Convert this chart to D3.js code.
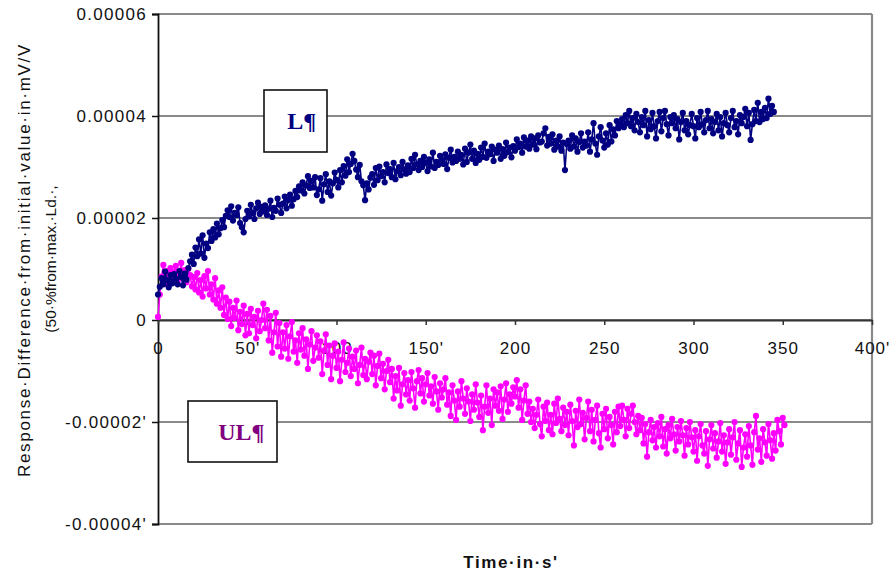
<!DOCTYPE html>
<html><head><meta charset="utf-8">
<script src="https://cdn.jsdelivr.net/npm/d3@7"></script>
<style>body{margin:0;background:#fff}svg{display:block}</style>
</head><body>
<svg id="chart" width="895" height="575"></svg>
<script>
// values in micro-units (x 1e-6 mV/V), one sample per second
const UNIT = 1e-6;
const lStart = 0;
const lValues = [
5.0,6.5,8.2,7.0,9.5,7.8,6.4,8.8,7.2,9.0,
8.1,7.0,9.6,8.4,6.8,9.1,7.9,10.2,11.5,12.8,
11.0,14.2,12.5,15.8,13.0,16.6,12.2,15.0,14.1,17.2,
15.5,17.8,16.2,18.9,16.8,18.0,19.6,18.2,20.4,21.5,
20.2,22.3,19.5,21.0,20.6,22.1,19.0,18.2,17.2,19.8,
21.4,20.3,22.6,21.0,19.8,21.9,23.0,20.8,22.2,21.3,
22.5,20.6,21.8,23.4,20.2,22.0,21.4,23.8,22.6,21.0,
22.8,24.2,21.9,23.5,24.6,22.4,23.7,25.3,24.1,26.2,
25.4,27.0,24.8,26.4,28.2,25.9,27.3,26.0,28.0,24.5,
25.6,27.8,23.4,26.6,28.6,25.1,27.2,24.4,26.8,28.9,
27.5,26.0,29.4,27.0,30.2,28.3,31.5,29.0,30.6,32.6,
31.2,29.5,28.0,30.4,27.2,26.4,23.5,26.8,25.6,27.9,
28.6,26.5,29.8,27.4,30.1,28.2,29.0,27.0,30.5,28.8,
29.6,28.0,30.8,27.6,29.2,30.0,28.4,31.0,29.5,28.7,
30.3,29.0,31.6,29.8,32.4,30.5,29.4,31.2,30.0,32.0,
30.8,29.2,31.5,30.1,32.8,29.8,31.0,30.4,32.2,31.4,
30.6,32.5,29.6,31.8,33.4,30.9,32.0,31.2,33.0,31.6,
32.4,30.5,33.6,31.0,32.8,34.4,31.6,33.2,30.8,32.6,
31.4,33.8,32.0,34.6,31.8,33.0,32.5,34.0,31.2,33.4,
32.8,34.2,31.6,33.5,32.2,34.8,32.9,33.8,31.9,34.1,
33.2,35.4,33.9,34.6,32.8,35.8,34.0,35.2,33.6,36.0,
34.4,35.6,33.5,36.2,34.8,35.0,36.6,37.6,34.2,35.9,
34.6,36.4,33.4,35.2,34.0,36.0,33.2,34.8,29.4,34.5,
35.2,33.6,36.2,34.0,35.6,33.0,34.9,36.6,33.8,35.0,
34.2,36.8,33.0,35.4,38.6,34.6,32.4,36.0,37.8,35.2,
33.8,36.6,34.4,38.2,35.0,37.4,36.2,39.0,37.6,38.4,
39.4,37.8,40.2,38.6,41.0,38.0,39.6,37.2,40.4,38.8,
36.8,39.8,38.2,41.0,36.0,39.2,37.4,40.6,38.0,35.6,
39.0,40.8,37.0,39.6,41.0,38.4,36.2,39.8,38.6,40.2,
37.6,39.4,35.4,38.8,40.6,37.2,39.0,36.4,38.2,40.4,
38.0,35.6,39.6,37.8,40.8,38.4,36.8,39.2,41.0,37.6,
39.4,36.6,38.8,40.4,37.2,39.8,36.0,38.6,40.6,38.2,
36.8,39.6,41.0,37.8,39.0,36.4,40.2,38.6,39.8,41.4,
38.0,40.6,35.3,38.4,41.2,39.0,42.6,38.8,40.8,39.4,
41.6,39.6,43.4,40.4,42.0,40.8
];
const ulStart = 0;
const ulValues = [
0.6,5.0,8.5,10.8,7.2,9.6,6.8,10.2,8.0,9.4,
10.6,7.6,9.0,11.2,8.2,9.8,7.4,10.0,8.8,6.6,
8.4,6.0,9.2,5.4,7.8,4.6,8.6,6.2,9.6,5.0,
7.0,4.0,8.2,3.2,5.8,2.4,6.4,1.0,4.4,0.2,
3.6,-1.2,2.4,0.4,3.8,-2.0,1.6,-0.8,2.8,-3.0,
1.2,-2.6,2.2,-1.0,0.6,-3.6,1.8,-2.2,0.0,3.2,
-1.6,2.0,-4.0,0.8,-6.4,-2.4,1.4,-5.2,-0.6,-7.2,
-2.4,-5.6,-1.0,-7.6,-3.2,-0.4,-6.2,-4.0,-8.4,-2.6,
-5.8,-1.6,-7.0,-3.8,-9.6,-4.8,-2.2,-8.0,-5.4,-3.0,
-7.4,-4.2,-10.6,-6.0,-2.8,-8.8,-5.0,-11.6,-7.0,-4.6,
-9.4,-6.2,-12.0,-7.8,-4.4,-10.2,-8.4,-5.6,-11.0,-7.2,
-9.6,-6.0,-12.4,-8.8,-5.4,-10.8,-7.6,-11.6,-8.2,-6.4,
-10.6,-7.0,-12.8,-9.0,-6.6,-11.4,-8.6,-13.6,-10.0,-7.8,
-12.2,-9.6,-15.4,-11.0,-13.8,-9.4,-16.8,-12.6,-10.4,-14.6,
-11.8,-15.8,-10.2,-13.4,-17.2,-12.0,-9.8,-14.4,-11.4,-16.0,
-12.6,-10.4,-14.8,-13.0,-16.4,-11.2,-14.0,-17.6,-12.4,-15.2,
-13.6,-11.4,-16.6,-14.2,-18.8,-12.8,-15.8,-19.6,-14.0,-17.0,
-12.0,-15.4,-18.4,-13.4,-16.0,-19.8,-14.6,-17.6,-12.6,-16.2,
-19.0,-14.8,-21.6,-17.0,-12.8,-18.2,-15.4,-20.6,-13.6,-16.8,
-14.2,-17.8,-13.0,-19.4,-15.6,-12.4,-18.0,-14.6,-16.4,-13.2,
-15.0,-11.8,-17.2,-13.6,-19.6,-15.8,-12.8,-18.4,-16.0,-20.0,
-17.4,-21.2,-18.6,-15.6,-20.4,-22.8,-17.0,-19.8,-16.2,-21.6,
-18.6,-22.4,-16.4,-20.2,-15.4,-19.4,-21.8,-17.2,-20.6,-18.0,
-22.6,-16.6,-19.8,-24.6,-17.8,-21.0,-15.6,-20.4,-18.2,-23.4,
-19.2,-16.0,-21.8,-17.6,-23.8,-19.6,-16.8,-22.2,-25.0,-18.4,
-21.4,-17.4,-23.2,-19.0,-20.6,-24.4,-18.0,-22.0,-17.0,-20.8,
-16.8,-19.6,-22.8,-17.4,-21.2,-18.4,-16.8,-20.0,-22.4,-18.8,
-21.6,-19.2,-24.2,-20.4,-26.8,-22.0,-19.6,-23.6,-21.0,-25.0,
-20.2,-22.8,-19.0,-24.8,-21.4,-26.2,-20.6,-23.2,-19.4,-22.4,
-25.6,-21.0,-23.8,-19.8,-22.6,-26.6,-21.2,-24.4,-20.0,-23.0,
-25.8,-21.6,-27.6,-22.8,-20.4,-24.6,-26.2,-21.8,-28.6,-23.4,
-20.6,-25.2,-22.2,-27.0,-23.8,-20.2,-25.8,-22.6,-28.2,-24.0,
-21.4,-26.4,-23.0,-20.0,-27.4,-24.2,-21.6,-28.8,-25.0,-22.4,
-26.8,-20.8,-24.6,-28.4,-22.0,-18.8,-25.4,-23.2,-27.8,-21.4,
-24.0,-26.6,-20.4,-23.6,-27.2,-22.2,-25.6,-19.6,-21.8,-24.4,
-19.2,-20.6
];
const yTicks = [-0.00004, -0.00002, 0, 0.00002, 0.00004, 0.00006];
const yTickLabels = ["-0.00004'", "-0.00002'", "0", "0.00002", "0.00004", "0.00006"];
const xTicks = [0, 50, 100, 150, 200, 250, 300, 350, 400];
const xTickLabels = ["0", "50'", "100", "150'", "200", "250", "300", "350", "400'"];
const yTitle1 = "Response\u00B7Difference\u00B7from\u00B7initial\u00B7value\u00B7in\u00B7mV/V";
const yTitle2 = "(50\u00B7%from\u00B7max.\u00B7Ld.\u00B7,";
const xTitle = "Time\u00B7in\u00B7s'";
const labelL = "L\u00B6";
const labelUL = "UL\u00B6";

const svg = d3.select("#chart");
const x = d3.scaleLinear().domain([0, 400]).range([158, 872]);
const y = d3.scaleLinear().domain([-0.00004, 0.00006]).range([524, 14]);
const FONT = "Liberation Sans, Arial, sans-serif";

// gridlines
svg.append("g").selectAll("line").data(yTicks).join("line")
  .attr("x1", 158).attr("x2", 872)
  .attr("y1", d => y(d)).attr("y2", d => y(d))
  .attr("stroke", "#8a8a8a").attr("stroke-width", 2.2);
// right border
svg.append("line").attr("x1", 872).attr("x2", 872).attr("y1", y(0.00006)).attr("y2", y(-0.00004))
  .attr("stroke", "#8a8a8a").attr("stroke-width", 2.2);

// y axis
const yAxis = d3.axisLeft(y).tickValues(yTicks).tickSize(6).tickFormat((d, i) => yTickLabels[i]);
const gy = svg.append("g").attr("transform", "translate(158,0)").call(yAxis);
gy.select(".domain").attr("stroke", "#111").attr("stroke-width", 1.8);
gy.selectAll(".tick line").attr("stroke", "#111").attr("stroke-width", 1.5);
gy.selectAll(".tick text").attr("font-family", FONT)
  .attr("font-size", 17).attr("letter-spacing", 1.3).attr("fill", "#111").attr("x", -11);

// x axis at zero
const xAxis = d3.axisBottom(x).tickValues(xTicks).tickSize(5).tickSizeOuter(0).tickFormat((d, i) => xTickLabels[i]);
const gx = svg.append("g").attr("transform", `translate(0,${y(0)})`).call(xAxis);
gx.select(".domain").attr("stroke", "#333").attr("stroke-width", 2);
gx.selectAll(".tick line").attr("stroke", "#333").attr("stroke-width", 1.5);
gx.selectAll(".tick text").attr("font-family", FONT)
  .attr("font-size", 17).attr("letter-spacing", 1).attr("fill", "#111").attr("dy", "1.55em");

// series
function drawSeries(values, start, color) {
  const pts = values.map((v, i) => [start + i, v * UNIT]);
  svg.append("path").datum(pts)
    .attr("fill", "none").attr("stroke", color).attr("stroke-width", 1.6)
    .attr("d", d3.line().x(d => x(d[0])).y(d => y(d[1])));
  svg.append("g").selectAll("circle").data(pts).join("circle")
    .attr("cx", d => x(d[0])).attr("cy", d => y(d[1])).attr("r", 3.1)
    .attr("fill", color);
}
drawSeries(ulValues, ulStart, "#ff00ff");
drawSeries(lValues, lStart, "#000080");

// label boxes
function labelBox(x0, y0, w, h, text, color) {
  svg.append("rect").attr("x", x0).attr("y", y0).attr("width", w).attr("height", h)
    .attr("fill", "#fff").attr("stroke", "#111").attr("stroke-width", 1.6);
  svg.append("text").attr("x", x0 + w * 0.6).attr("y", y0 + h / 2 + 8)
    .attr("text-anchor", "middle").attr("font-family", "Liberation Serif, Times New Roman, serif")
    .attr("font-weight", "bold").attr("font-size", 24).attr("fill", color).text(text);
}
labelBox(264, 90, 63, 62, labelL, "#000080");
labelBox(188, 401, 89, 61, labelUL, "#800080");

// axis titles
svg.append("text").attr("transform", "translate(30,260) rotate(-90)")
  .attr("text-anchor", "middle").attr("font-family", FONT)
  .attr("font-size", 17).attr("letter-spacing", 1.7).attr("fill", "#111").text(yTitle1);
svg.append("text").attr("transform", "translate(56,259) rotate(-90)")
  .attr("text-anchor", "middle").attr("font-family", FONT)
  .attr("font-size", 15.5).attr("fill", "#111").text(yTitle2);
svg.append("text").attr("x", 511).attr("y", 568)
  .attr("text-anchor", "middle").attr("font-family", FONT)
  .attr("font-size", 17).attr("font-weight", "bold").attr("letter-spacing", 1.6).attr("fill", "#111").text(xTitle);
</script>
</body></html>
